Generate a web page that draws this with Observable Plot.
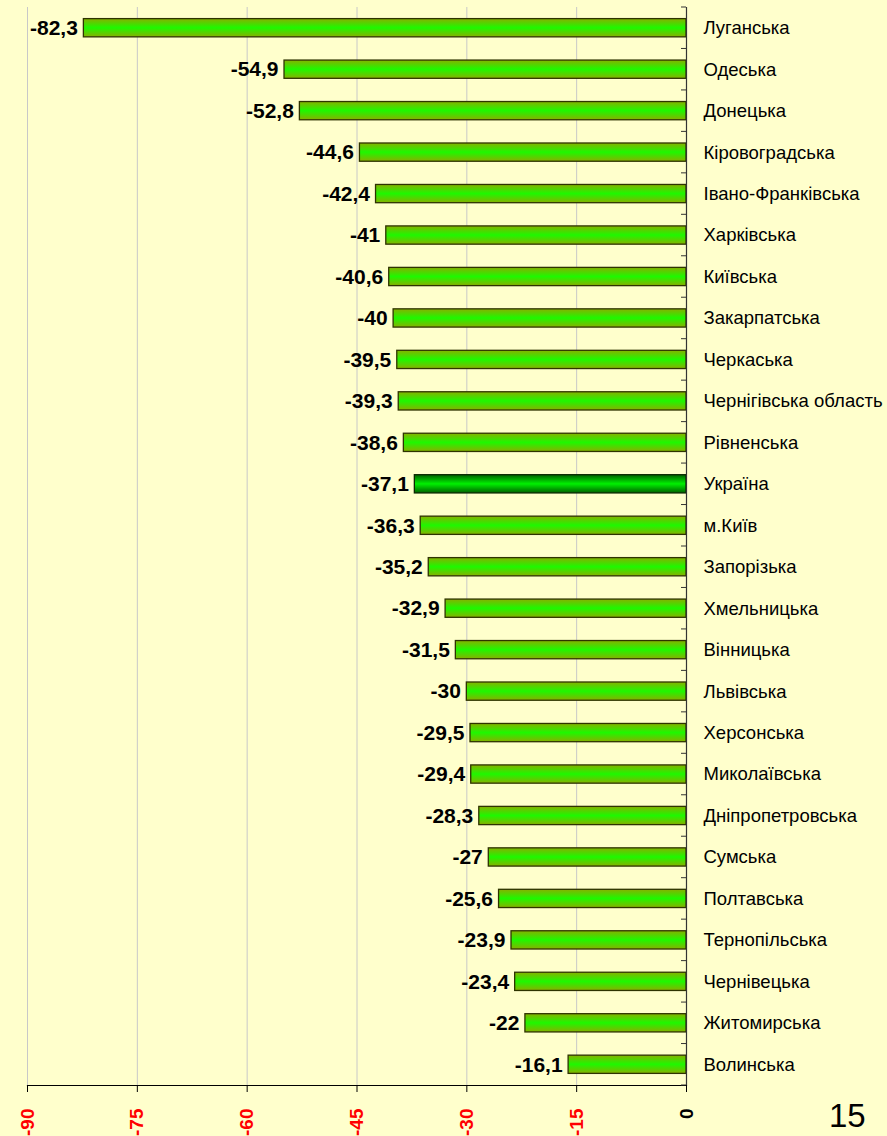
<!DOCTYPE html>
<html><head><meta charset="utf-8">
<script src="https://cdn.jsdelivr.net/npm/d3@7"></script>
<script src="https://cdn.jsdelivr.net/npm/@observablehq/plot@0.6"></script>
<style>
body{margin:0;background:#FFFFCC;}
#wrap{position:relative;width:887px;height:1136px;overflow:hidden;background:#FFFFCC;}
#page{position:absolute;left:829px;top:1099px;font:33px "Liberation Sans",Arial,sans-serif;color:#000;line-height:33px;}
</style></head><body><div id="wrap"><div id="chart"></div><div id="page">15</div></div>
<script>
const regions = ["Луганська","Одеська","Донецька","Кіровоградська","Івано-Франківська","Харківська","Київська","Закарпатська","Черкаська","Чернігівська область","Рівненська","Україна","м.Київ","Запорізька","Хмельницька","Вінницька","Львівська","Херсонська","Миколаївська","Дніпропетровська","Сумська","Полтавська","Тернопільська","Чернівецька","Житомирська","Волинська"];
const values = [-82.3,-54.9,-52.8,-44.6,-42.4,-41,-40.6,-40,-39.5,-39.3,-38.6,-37.1,-36.3,-35.2,-32.9,-31.5,-30,-29.5,-29.4,-28.3,-27,-25.6,-23.9,-23.4,-22,-16.1];
const xTicks = [-90,-75,-60,-45,-30,-15,0];
const highlight = "Україна";

const data = regions.map((r,i)=>({region:r, value:values[i]}));
const fmt = v => String(v).replace(".", ",");

const chart = Plot.plot({
  width: 887, height: 1136,
  marginLeft: 27, marginRight: 201, marginTop: 7, marginBottom: 51,
  style: {background: "transparent", fontFamily: "'Liberation Sans', Arial, sans-serif", overflow: "visible"},
  x: {domain: [-90, 0]},
  y: {domain: regions, paddingInner: 0.56, paddingOuter: 0.28, round: false},
  marks: [
    Plot.gridX(xTicks.filter(t => t !== 0), {stroke: "#c8c8c8", strokeOpacity: 1, strokeWidth: 1}),
    Plot.barX(data.filter(d => d.region !== highlight), {x: "value", y: "region", fill: "url(#gGreen)", stroke: "#2e3300", strokeWidth: 1.3}),
    Plot.barX(data.filter(d => d.region === highlight), {x: "value", y: "region", fill: "url(#gDark)", stroke: "#0a2a00", strokeWidth: 1.3}),
    Plot.text(data, {x: "value", y: "region", text: d => fmt(d.value), textAnchor: "end", dx: -6, fontSize: 21, fontWeight: "bold", fill: "#000"}),
    Plot.ruleX([0], {stroke: "#333", strokeWidth: 1.2}),
    Plot.frame({anchor: "bottom", stroke: "#000", strokeWidth: 1.2}),
    Plot.axisX(xTicks.filter(t => t !== 0), {anchor: "bottom", tickSize: 7, tickPadding: 16, tickRotate: -90, fontSize: 19, fontWeight: "bold", fill: "#ff0000", stroke: "#000", label: null, tickFormat: d => String(d)}),
    Plot.axisX([0], {anchor: "bottom", tickSize: 7, tickPadding: 16, tickRotate: -90, fontSize: 19, fontWeight: "bold", fill: "#000", stroke: "#000", label: null, tickFormat: d => String(d)}),
    Plot.axisY({anchor: "right", tickSize: 0, tickPadding: 17, fontSize: 18.5, fill: "#000", label: null})
  ]
});

const svg = d3.select(chart);
const defs = svg.insert("defs", ":first-child");
function grad(id, edge, mid) {
  const g = defs.append("linearGradient").attr("id", id).attr("x1", 0).attr("y1", 0).attr("x2", 0).attr("y2", 1);
  g.append("stop").attr("offset", "0%").attr("stop-color", edge);
  g.append("stop").attr("offset", "50%").attr("stop-color", mid);
  g.append("stop").attr("offset", "100%").attr("stop-color", edge);
}
grad("gGreen", "#88b000", "#1ef800");
grad("gDark", "#006000", "#00f000");

// small ticks between categories on the vertical zero axis
const yS = chart.scale("y");
const xS = chart.scale("x");
const x0 = xS.apply(0);
const step = yS.apply(regions[1]) - yS.apply(regions[0]);
const bw = yS.bandwidth;
const centers = regions.map(r => yS.apply(r) + bw / 2);
const bounds = [centers[0] - step / 2, ...centers.map(c => c + step / 2)];
const tg = svg.append("g");
bounds.forEach(b => tg.append("line").attr("x1", x0 - 5).attr("x2", x0).attr("y1", b).attr("y2", b).attr("stroke", "#333"));

document.getElementById("chart").appendChild(chart);
</script>
</body></html>
